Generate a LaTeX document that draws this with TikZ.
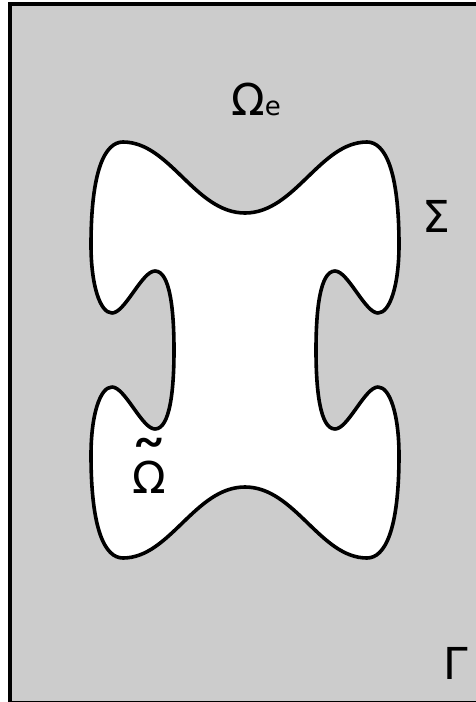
\documentclass[tikz,border=0pt]{standalone}
\usepackage{fontspec}
\setmainfont{DejaVu Sans}
\usepackage{graphicx}
\definecolor{bg}{RGB}{204,204,204}
\begin{document}
\begin{tikzpicture}[x=1pt,y=-1pt,
  lbl/.style={inner sep=0pt, anchor=base, font=\fontsize{44}{44}\selectfont},
  outline/.style={line width=3.6pt, fill=white, line join=round},
  frame/.style={fill=bg, line width=4pt}]
\useasboundingbox (0,0) rectangle (476,702);
\begin{scope}
  \clip (0,0) rectangle (476,702);
  \draw[frame] (10,4) rectangle (482,702.5);
\end{scope}
\begin{scope}[shift={(245,350)}]
\draw[outline] (0,-137)
 .. controls (-50,-137) and (-75,-208) .. (-122,-208)
 .. controls (-140,-208) and (-154,-180) .. (-154,-105)
 .. controls (-154,-65) and (-145,-37) .. (-133,-37)
 .. controls (-120,-37) and (-103,-79) .. (-90,-79)
 .. controls (-75,-79) and (-71,-40) .. (-71,0)
 .. controls (-71,40) and (-75,79) .. (-90,79)
 .. controls (-103,79) and (-120,37) .. (-133,37)
 .. controls (-145,37) and (-154,65) .. (-154,105)
 .. controls (-154,180) and (-140,208) .. (-122,208)
 .. controls (-75,208) and (-50,137) .. (0,137)
 .. controls (50,137) and (75,208) .. (122,208)
 .. controls (140,208) and (154,180) .. (154,105)
 .. controls (154,65) and (145,37) .. (133,37)
 .. controls (120,37) and (103,79) .. (90,79)
 .. controls (75,79) and (71,40) .. (71,0)
 .. controls (71,-40) and (75,-79) .. (90,-79)
 .. controls (103,-79) and (120,-37) .. (133,-37)
 .. controls (145,-37) and (154,-65) .. (154,-105)
 .. controls (154,-180) and (140,-208) .. (122,-208)
 .. controls (75,-208) and (50,-137) .. (0,-137) -- cycle;
\end{scope}
\node[lbl] (oe) at (256,115) {Ω{\fontsize{26}{26}\selectfont e}};
\node[lbl] (sig) at (436.5,232) {Σ};
\node[lbl] (gam) at (456,679) {Γ};
\node[lbl] (omt) at (149,493) {\ooalign{Ω\cr\hidewidth\raisebox{4pt}{\scalebox{1.8}[1.5]{˜}}\hidewidth\cr}};
\end{tikzpicture}
\end{document}
